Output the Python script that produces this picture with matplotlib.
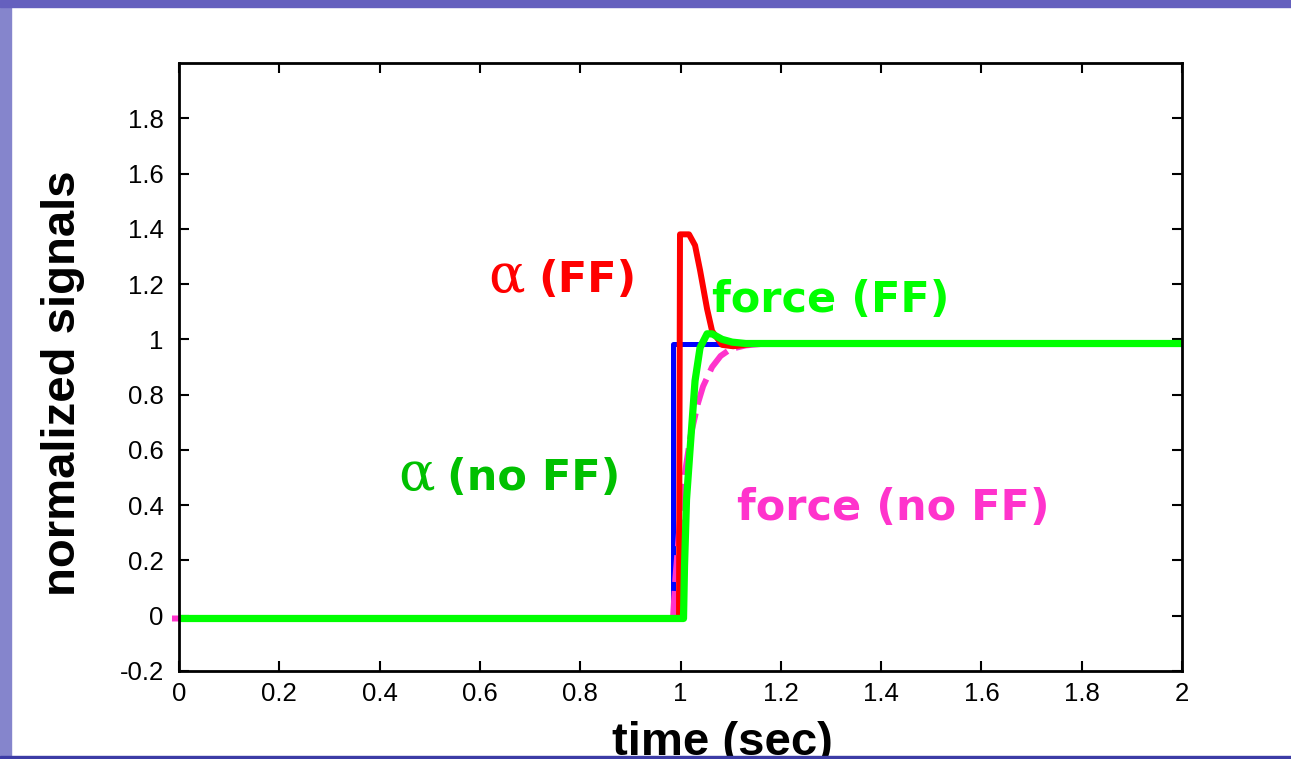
import matplotlib.pyplot as plt
from matplotlib.patches import Rectangle

# ---- data ----
t_step = [0.0, 0.985, 0.985, 2.0]
v_step = [-0.01, -0.01, 0.985, 0.985]

t_alpha_ff = [0.0, 0.997, 0.999, 1.017, 1.029, 1.039, 1.053, 1.063, 1.083, 1.105, 1.15, 2.0]
v_alpha_ff = [-0.01, -0.01, 1.38, 1.38, 1.34, 1.25, 1.11, 1.03, 0.98, 0.975, 0.985, 0.985]

t_force_ff = [0.0, 1.006, 1.008, 1.012, 1.019, 1.025, 1.029, 1.039, 1.053, 1.063, 1.083, 1.103, 1.13, 2.0]
v_force_ff = [-0.01, -0.01, 0.18, 0.42, 0.60, 0.75, 0.85, 0.97, 1.02, 1.02, 1.0, 0.99, 0.985, 0.985]

t_force_noff = [-0.014, 0.985, 0.99, 1.0, 1.01, 1.02, 1.035, 1.045, 1.063, 1.08, 1.1, 1.13, 1.17, 2.0]
v_force_noff = [-0.01, -0.01, 0.14, 0.37, 0.53, 0.65, 0.77, 0.83, 0.90, 0.94, 0.965, 0.978, 0.985, 0.985]

xticks = [0, 0.2, 0.4, 0.6, 0.8, 1, 1.2, 1.4, 1.6, 1.8, 2]
xtick_labels = ['0', '0.2', '0.4', '0.6', '0.8', '1', '1.2', '1.4', '1.6', '1.8', '2']
yticks = [-0.2, 0, 0.2, 0.4, 0.6, 0.8, 1, 1.2, 1.4, 1.6, 1.8]
ytick_labels = ['-0.2', '0', '0.2', '0.4', '0.6', '0.8', '1', '1.2', '1.4', '1.6', '1.8']

W, H = 1291, 759
fig = plt.figure(figsize=(W / 100, H / 100), dpi=100)
fig.patch.set_facecolor('white')

# slide border (blue-purple strips)
fig.patches.append(Rectangle((0, 0), 11 / W, 1, transform=fig.transFigure,
                             color='#8585cc', zorder=10))
fig.patches.append(Rectangle((0, 1 - 7 / H), 1, 7 / H, transform=fig.transFigure,
                             color='#6560be', zorder=10))
fig.patches.append(Rectangle((0, 0), 1, 3 / H, transform=fig.transFigure,
                             color='#3c3ca6', zorder=10))

ax = fig.add_axes([179 / W, 1 - 671 / H, (1182 - 179) / W, (671 - 63) / H])

ax.plot(t_step, v_step, color='#0000ff', lw=3.6, solid_joinstyle='round')
ax.plot(t_force_noff, v_force_noff, color='#ff33cc', lw=4.3, dashes=(4.5, 1.5), clip_on=False)
ax.plot(t_alpha_ff, v_alpha_ff, color='#ff0000', lw=4.3, solid_joinstyle='round')
ax.plot(t_force_ff, v_force_ff, color='#00ff00', lw=5.2, solid_joinstyle='round')

ax.set_xlim(0, 2)
ax.set_ylim(-0.2, 2.0)
ax.set_xticks(xticks)
ax.set_xticklabels(xtick_labels)
ax.set_yticks(yticks)
ax.set_yticklabels(ytick_labels)
for lab in ax.get_xticklabels() + ax.get_yticklabels():
    lab.set_family('Liberation Sans')
    lab.set_fontsize(18.5)
ax.tick_params(direction='in', length=7, width=1.5, top=True, right=True)
ax.tick_params(axis='y', pad=11)
ax.tick_params(axis='x', pad=8)
for sp in ax.spines.values():
    sp.set_linewidth(2)

# curve labels
lab_kw = dict(family='DejaVu Sans', weight='bold', fontsize=31, va='baseline', ha='left')
alpha_kw = dict(family='DejaVu Serif', fontsize=39, va='baseline', ha='left')
ax.text(0.617, 1.173, 'α', color='#ff0000', **alpha_kw)
ax.text(0.716, 1.173, '(FF)', color='#ff0000', **lab_kw)
ax.text(1.062, 1.100, 'force (FF)', color='#00ff00', **lab_kw)
ax.text(0.438, 0.455, 'α', color='#00c000', **alpha_kw)
ax.text(0.534, 0.455, '(no FF)', color='#00c000', **lab_kw)
ax.text(1.113, 0.347, 'force (no FF)', color='#ff33cc', **lab_kw)

# axis labels
fig.text(722 / W, 1 - 755 / H, 'time (sec)', family='Liberation Sans', weight='bold',
         fontsize=34, ha='center', va='baseline')
fig.text(63 / W, 1 - 383 / H, 'normalized signals', family='Liberation Sans', weight='bold',
         fontsize=34, rotation=90, ha='center', va='center')

fig.savefig('out.png', dpi=100)
